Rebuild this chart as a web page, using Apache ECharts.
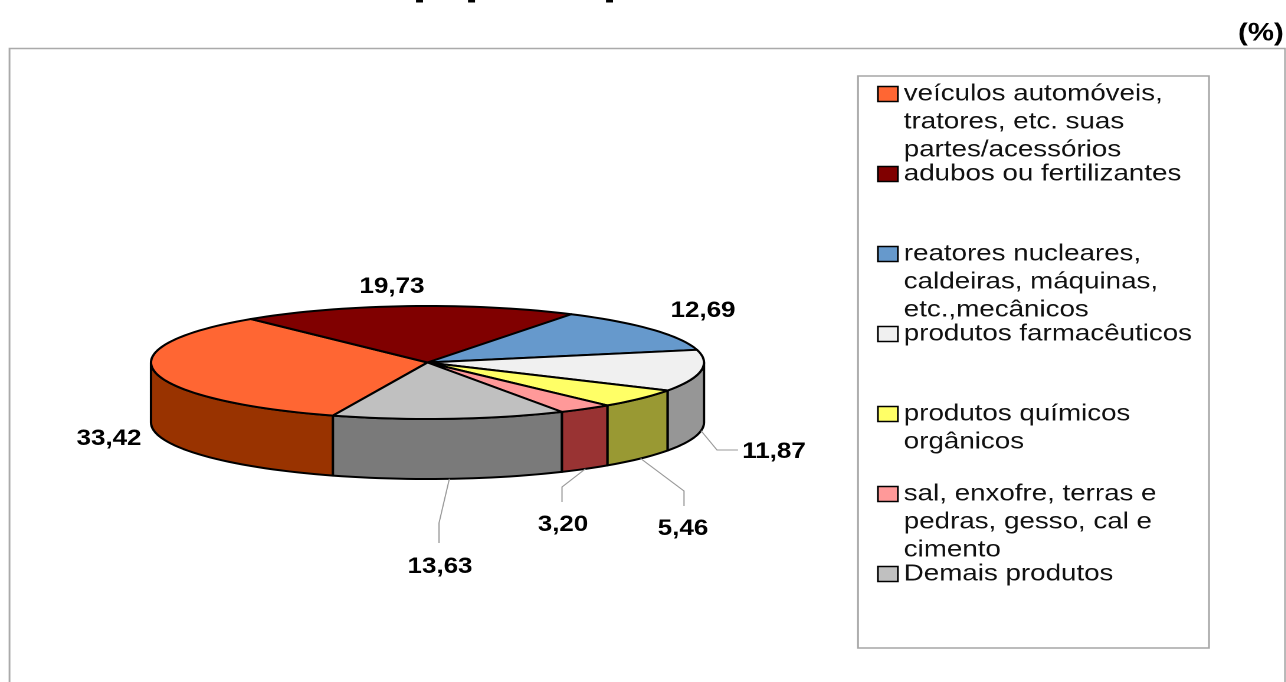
<!DOCTYPE html>
<html>
<head>
<meta charset="utf-8">
<style>
  html, body { margin: 0; background: #fff; overflow: hidden; }
  #chart { height: 682px; transform-origin: 0 0; }
</style>
<script src="https://cdn.jsdelivr.net/npm/echarts@6/dist/echarts.min.js"></script>
</head>
<body>
<div id="chart"></div>
<script>
const categories = [
  "veículos automóveis,\ntratores, etc. suas\npartes/acessórios",
  "adubos ou fertilizantes",
  "reatores nucleares,\ncaldeiras, máquinas,\netc.,mecânicos",
  "produtos farmacêuticos",
  "produtos químicos\norgânicos",
  "sal, enxofre, terras e\npedras, gesso, cal e\ncimento",
  "Demais produtos",
];
const values = [33.42, 19.73, 12.69, 11.87, 5.46, 3.2, 13.63];
const valueLabels = ["33,42", "19,73", "12,69", "11,87", "5,46", "3,20", "13,63"];
const topColors = ["#ff6633", "#800000", "#6699cc", "#f0f0f0", "#ffff66", "#ff9999", "#c0c0c0"];
const sideColors = ["#993300", "#400000", "#334d66", "#969696", "#999933", "#993333", "#7a7a7a"];

// the reference is stretched sideways as a whole, so the chart is too
const S = 1.18;
const FONT = "Liberation Sans";
const cx = 427.5 / S, cy = 362.5, rx = 276.5 / S, ry = 56.5, depth = 60;
const startAngle = 200;
const total = values.reduce((a, b) => a + b, 0);

// label centres and leader elbows, in reference pixels
const labelLayout = [
  { at: [109, 439] },
  { at: [392, 287] },
  { at: [703, 311] },
  { at: [774, 452], elbow: [[717, 450], [738, 450]] },
  { at: [683, 529], elbow: [[684, 491], [684, 506]] },
  { at: [563, 525], elbow: [[562, 487], [562, 502]] },
  { at: [440, 567], elbow: [[439, 523], [439, 543]] },
];

function rim(deg, down) {
  const a = (deg * Math.PI) / 180;
  return [cx + rx * Math.sin(a), cy - ry * Math.cos(a) + (down ? depth : 0)];
}

function arcPoints(from, to, down) {
  const pts = [];
  const steps = Math.max(2, Math.ceil((to - from) / 2));
  for (let k = 0; k <= steps; k++) pts.push(rim(from + ((to - from) * k) / steps, down));
  return pts;
}

function sliceStart(i) {
  return startAngle + (values.slice(0, i).reduce((a, b) => a + b, 0) / total) * 360;
}

function renderSlice(i, params, api) {
  const from = sliceStart(i);
  const to = from + (api.value(0) / total) * 360;
  const children = [];
  const line = { stroke: "#000", lineWidth: 2, lineJoin: "round" };

  // front wall: only the part between 90 and 270 degrees faces the viewer
  for (const shift of [0, 360]) {
    const a = Math.max(from, 90 + shift);
    const b = Math.min(to, 270 + shift);
    if (b > a) {
      children.push({
        type: "polygon",
        shape: { points: arcPoints(a, b, false).concat(arcPoints(a, b, true).reverse()) },
        style: { fill: sideColors[i], ...line },
      });
    }
  }

  children.push({
    type: "polygon",
    shape: { points: [[cx, cy]].concat(arcPoints(from, to, false)) },
    style: { fill: topColors[i], ...line },
  });

  const layout = labelLayout[i];
  if (layout.elbow) {
    const mid = (from + to) / 2;
    const start = rim(mid, true);
    const rest = layout.elbow.map((p) => [p[0] / S, p[1]]);
    children.push({
      type: "polyline",
      shape: { points: [start].concat(rest) },
      style: { fill: null, stroke: "#999", lineWidth: 1 },
      z2: 5,
    });
  }
  children.push({
    type: "text",
    style: {
      text: valueLabels[i],
      x: layout.at[0] / S,
      y: layout.at[1],
      align: "center",
      verticalAlign: "middle",
      font: `bold 22px "${FONT}"`,
      fill: "#000",
    },
    z2: 6,
  });
  return { type: "group", children };
}

const series = categories.map((name, i) => ({
  type: "custom",
  name,
  coordinateSystem: "none",
  silent: true,
  itemStyle: { color: topColors[i] },
  data: [[values[i]]],
  renderItem: (params, api) => renderSlice(i, params, api),
}));

const LEGEND_LINE = 28;
// one legend per entry: each row sits on an 80px pitch, marker on the first line
const legends = categories.map((name, i) => {
  const lines = name.split("\n").length;
  return {
    data: [name],
    left: 877 / S,
    top: 94 + i * 80 - ((2 * lines - 1) * LEGEND_LINE) / 2,
    padding: 0,
    selectedMode: false,
    icon: "rect",
    itemWidth: 20 / S,
    itemHeight: 15,
    itemGap: 0,
    itemStyle: { borderColor: "#000", borderWidth: 1.5 },
    formatter: (n) => "\n".repeat(lines - 1) + n,
    textStyle: {
      fontFamily: FONT,
      fontSize: 23.5,
      lineHeight: LEGEND_LINE,
      color: "#111",
    },
  };
});

const el = document.getElementById("chart");
el.style.width = 1286 / S + "px";
el.style.transform = `scaleX(${S})`;

const chart = echarts.init(el, null, { devicePixelRatio: 2 });
chart.setOption({
  animation: false,
  backgroundColor: "#fff",
  tooltip: { show: false },
  title: {
    text: "(%)",
    right: 2,
    top: 21,
    padding: 0,
    textStyle: { fontFamily: FONT, fontSize: 25, fontWeight: "bold", color: "#000" },
  },
  legend: legends,
  graphic: [
    {
      type: "rect",
      z: -1,
      shape: { x: 9.5 / S, y: 48.5, width: (1285 - 9.5) / S, height: 700 },
      style: { fill: "#fff", stroke: "#aaa", lineWidth: 1.5 },
    },
    {
      type: "rect",
      z: -1,
      shape: { x: 858 / S, y: 76, width: (1209 - 858) / S, height: 572 },
      style: { fill: "#fff", stroke: "#a6a6a6", lineWidth: 1.5 },
    },
    // feet of the cut-off heading above the frame
    ...[420, 472, 610].map((x) => ({
      type: "rect",
      z: 1,
      shape: { x: (x - 4) / S, y: 0, width: 7 / S, height: 2.5 },
      style: { fill: "#000" },
    })),
  ],
  series,
});
</script>
</body>
</html>
